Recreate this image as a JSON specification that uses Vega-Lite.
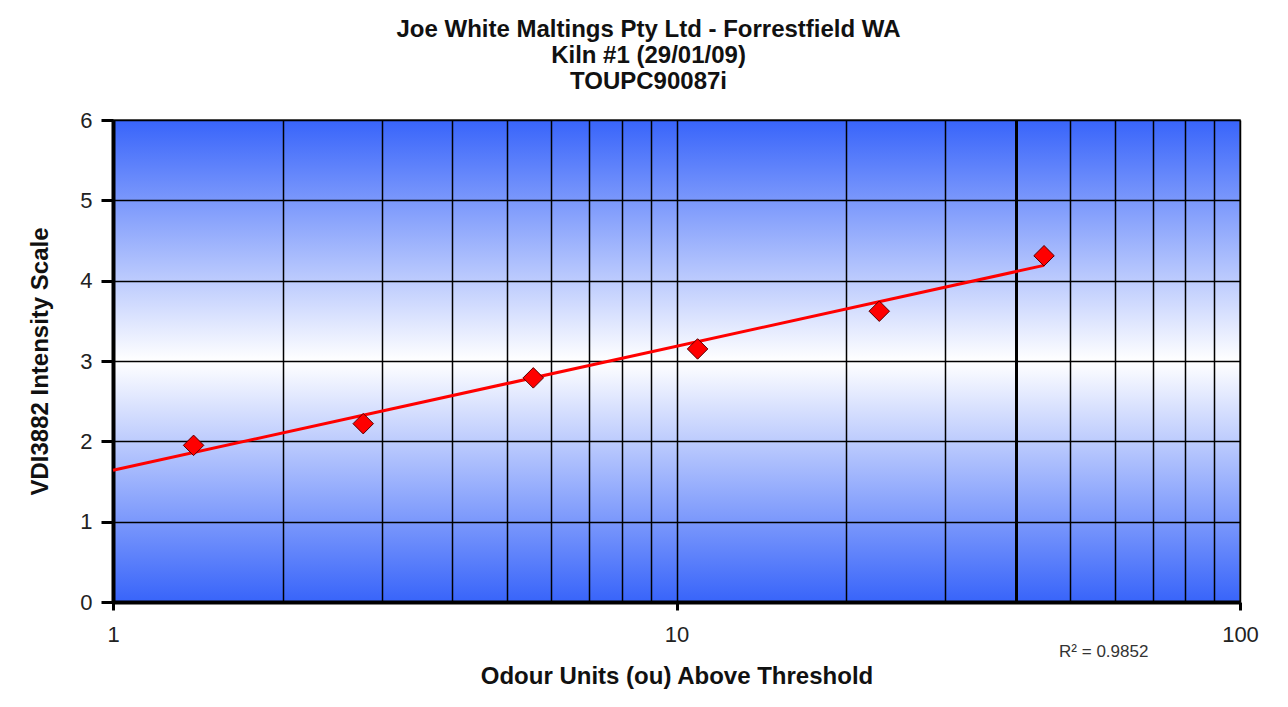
{
  "$schema": "https://vega.github.io/schema/vega-lite/v6.json",
  "width": 1127,
  "height": 482,
  "autosize": "none",
  "padding": {"left": 113, "top": 120, "right": 48, "bottom": 105},
  "background": "white",
  "view": {
    "stroke": "#333333",
    "strokeWidth": 1.5,
    "fill": {
      "gradient": "linear",
      "x1": 0, "y1": 0, "x2": 0, "y2": 1,
      "stops": [
        {"offset": 0, "color": "#3864fa"},
        {"offset": 0.5, "color": "#ffffff"},
        {"offset": 1, "color": "#3864fa"}
      ]
    }
  },
  "config": {"font": "Liberation Sans"},
  "title": {
    "text": ["Joe White Maltings Pty Ltd - Forrestfield WA", "Kiln #1 (29/01/09)", "TOUPC90087i"],
    "font": "Liberation Sans",
    "fontSize": 24,
    "fontWeight": "bold",
    "color": "#111111",
    "lineHeight": 26,
    "anchor": "middle",
    "dx": -28,
    "offset": 15
  },
  "datasets": {
    "points": [
      {"ou": 1.39, "vdi": 1.95},
      {"ou": 2.78, "vdi": 2.22},
      {"ou": 5.57, "vdi": 2.79},
      {"ou": 10.9, "vdi": 3.15},
      {"ou": 22.9, "vdi": 3.62},
      {"ou": 44.9, "vdi": 4.31}
    ],
    "trend": [
      {"ou": 1, "vdi": 1.64},
      {"ou": 44.9, "vdi": 4.19}
    ],
    "note": [
      {"ou": 57.3, "vdi": -0.62, "label": "R² = 0.9852"}
    ]
  },
  "encoding": {
    "x": {
      "field": "ou",
      "type": "quantitative",
      "scale": {"type": "log", "domain": [1, 100], "nice": false},
      "axis": {
        "title": "Odour Units (ou) Above Threshold",
        "values": [1, 2, 3, 4, 5, 6, 7, 8, 9, 10, 20, 30, 40, 50, 60, 70, 80, 90, 100],
        "labelExpr": "(datum.value == 1 || datum.value == 10 || datum.value == 100) ? '' + datum.value : ''",
        "grid": true,
        "gridColor": "#000000",
        "gridOpacity": 1,
        "gridWidth": {"condition": {"test": "datum.value == 40", "value": 3}, "value": 1.5},
        "domainColor": "#000000",
        "domainWidth": 4,
        "tickColor": "#000000",
        "tickSize": 8,
        "tickWidth": 3,
        "tickOpacity": {"condition": {"test": "datum.value == 1 || datum.value == 10 || datum.value == 100", "value": 1}, "value": 0},
        "labelFontSize": 22,
        "labelColor": "#222222",
        "labelPadding": 14,
        "labelFlush": false,
        "labelOverlap": false,
        "titleFontSize": 24,
        "titleFontWeight": "bold",
        "titleColor": "#111111",
        "titlePadding": 19
      }
    },
    "y": {
      "field": "vdi",
      "type": "quantitative",
      "scale": {"domain": [0, 6], "nice": false, "zero": false},
      "axis": {
        "title": "VDI3882 Intensity Scale",
        "values": [0, 1, 2, 3, 4, 5, 6],
        "grid": true,
        "gridColor": "#000000",
        "gridOpacity": 1,
        "gridWidth": 1.5,
        "domainColor": "#000000",
        "domainWidth": 4,
        "tickColor": "#000000",
        "tickSize": 12,
        "tickWidth": 3,
        "labelFontSize": 22,
        "labelColor": "#222222",
        "labelPadding": 9,
        "labelFlush": false,
        "titleFontSize": 24,
        "titleFontWeight": "bold",
        "titleColor": "#111111",
        "titlePadding": 27
      }
    }
  },
  "layer": [
    {
      "data": {"name": "trend"},
      "mark": {"type": "line", "color": "#ff0000", "strokeWidth": 3}
    },
    {
      "data": {"name": "points"},
      "mark": {"type": "point", "shape": "diamond", "filled": true, "size": 420, "fill": "#ff0000", "stroke": "#550000", "strokeWidth": 1, "opacity": 1}
    },
    {
      "data": {"name": "note"},
      "mark": {"type": "text", "fontSize": 17, "color": "#333333", "align": "center", "baseline": "middle"},
      "encoding": {"text": {"field": "label", "type": "nominal"}}
    }
  ]
}
